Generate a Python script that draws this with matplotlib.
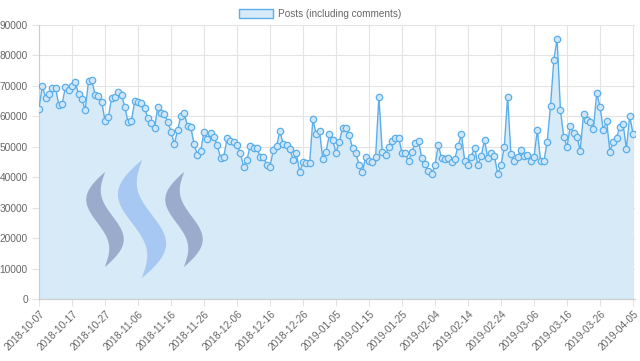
import numpy as np
import pandas as pd
import matplotlib
matplotlib.use("Agg")
from matplotlib import pyplot as plt
from matplotlib.patches import Polygon, Patch

# daily post counts (including comments)
start_date = "2018-10-07"
posts = [
    62500, 70100, 66100, 67200, 69300, 69400, 63700, 64100, 69500, 68700,
    70100, 71200, 67200, 65600, 62100, 71600, 71900, 67000, 66800, 64800,
    58500, 59700, 65900, 66500, 67900, 67000, 63200, 58000, 58500, 65000,
    64800, 64300, 62600, 59400, 57700, 56100, 63000, 61000, 60700, 58300,
    55000, 50800, 55500, 60200, 61000, 56800, 56400, 50800, 47300, 48600,
    55000, 52400, 54400, 53300, 50600, 46400, 46800, 52800, 52000, 51700,
    50600, 47900, 43500, 45700, 50300, 49500, 49700, 46800, 46800, 44000,
    43500, 48900, 50300, 55200, 50800, 50600, 49300, 45700, 47900, 41600,
    45100, 44600, 44600, 59000, 54100, 55200, 46000, 48400, 54100, 52200,
    48000, 51700, 56100, 56100, 53900, 49500, 47900, 44000, 41600, 46800,
    45300, 45100, 46800, 66500, 48400, 47300, 50000, 51900, 52800, 53000,
    47900, 47900, 45300, 48400, 51100, 51900, 46200, 44200, 42000, 41000,
    44000, 50600, 46200, 46000, 46400, 45100, 46000, 50400, 54100, 45300,
    44000, 46800, 49700, 44000, 47000, 52200, 46200, 47900, 47100, 41000,
    44000, 50000, 66500, 47500, 45300, 46800, 48900, 47000, 47300, 45300,
    46600, 55500, 45300, 45300, 51700, 63400, 78500, 85400, 62100, 53300,
    50000, 56800, 54600, 53300, 48700, 60800, 58800, 58000, 55800, 67600,
    63200, 55500, 58500, 48400, 51700, 53000, 56600, 57400, 49300, 60200,
    54200,
]
dates = pd.date_range(start_date, periods=len(posts), freq="D")
labels = [d.strftime("%Y-%m-%d") for d in dates]

line_col = "#5aaeea"
fill_col = "#d7eaf8"
grid_col = "#e3e3e3"
text_col = "#666666"

plt.rcParams["font.family"] = ["Liberation Sans", "DejaVu Sans"]

fig = plt.figure(figsize=(6.4, 3.61), dpi=100)
ax = fig.add_axes([39 / 640, 1 - 299 / 361, 596 / 640, 274 / 361])

x = np.arange(len(posts))
ax.fill_between(x, posts, 0, color=fill_col, lw=0, zorder=1)
ax.plot(x, posts, color=line_col, lw=1.0, marker="o", ms=4.6,
        mfc="#cfe6f8", mec=line_col, mew=0.9, zorder=3)

ax.set_xlim(0, len(posts) - 1 + 0.6)
ax.set_ylim(0, 90000)
ax.set_yticks(np.arange(0, 90001, 10000))
ax.set_yticklabels([str(v) for v in range(0, 90001, 10000)])
ax.set_xticks(x[::10])
ax.set_xticklabels(labels[::10], rotation=45, ha="right", rotation_mode="anchor")

ax.grid(True, color=grid_col, lw=0.8)
ax.set_axisbelow(True)
for s in ["top", "right"]:
    ax.spines[s].set_visible(False)
for s in ["left", "bottom"]:
    ax.spines[s].set_color("#cccccc")
ax.tick_params(axis="both", colors=grid_col, length=5, width=0.8,
               labelcolor=text_col, labelsize=7.3)
ax.tick_params(axis="y", pad=3)
ax.tick_params(axis="x", pad=2)

# steem watermark (three waves), drawn in pixel coords on an overlay
ov = fig.add_axes([0, 0, 1, 1], zorder=0.5)
ov.set_xlim(0, 640)
ov.set_ylim(361, 0)
ov.axis("off")
ov.patch.set_alpha(0)
t = np.linspace(0, 1, 80)
for cx, top, h, amp, w, col in [(105, 172, 95, 11, 20, "#9aabcc"),
                                (142, 160, 118, 14, 26, "#a6c8f2"),
                                (184, 172, 95, 11, 20, "#9aabcc")]:
    yc = top + h * t
    xc = cx - amp * np.sin(2 * np.pi * t)
    half = w / 2 * np.sin(np.pi * t) ** 0.9
    pts = np.vstack([np.column_stack([xc - half, yc]),
                     np.column_stack([xc + half, yc])[::-1]])
    ov.add_patch(Polygon(pts, closed=True, color=col, lw=0))

leg_handle = Patch(facecolor=fill_col, edgecolor=line_col, lw=1)
fig.legend([leg_handle], ["Posts (including comments)"], loc="upper center",
           bbox_to_anchor=(0.5, 1.0), frameon=False, fontsize=7.2,
           labelcolor=text_col, handlelength=3.4, handleheight=0.9,
           handletextpad=0.5)

fig.savefig("out.png", dpi=100)
